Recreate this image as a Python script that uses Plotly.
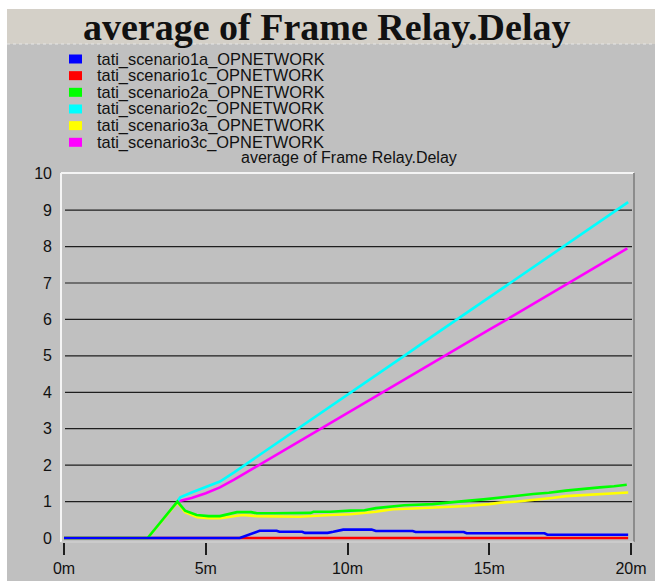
import plotly.graph_objects as go

# ---- data: average Frame Relay delay (seconds) vs simulation time (minutes) ----
names = [
    "tati_scenario1a_OPNETWORK",
    "tati_scenario1c_OPNETWORK",
    "tati_scenario2a_OPNETWORK",
    "tati_scenario2c_OPNETWORK",
    "tati_scenario3a_OPNETWORK",
    "tati_scenario3c_OPNETWORK",
]
colors = ["#0000ff", "#ff0000", "#00ff00", "#00ffff", "#ffff00", "#ff00ff"]

time_1a = [0, 6.2, 6.9, 7.5, 7.6, 8.4, 8.5, 9.3, 9.5, 9.85, 10.85, 11.0, 12.3,
           12.4, 14.1, 14.2, 16.95, 17.05, 19.9]
delay_1a = [0, 0, 0.2, 0.2, 0.17, 0.17, 0.14, 0.14, 0.17, 0.23, 0.23, 0.19, 0.19,
            0.165, 0.165, 0.13, 0.13, 0.09, 0.09]

time_1c = [0, 6.2, 19.9]
delay_1c = [0, 0, 0]

time_2a = [0, 2.95, 4.0, 4.27, 4.68, 5.1, 5.5, 5.85, 6.1, 6.6, 6.8, 7.4, 8.0, 8.7,
           8.8, 9.4, 10.1, 10.6, 11.0, 11.6, 12.0, 13.0, 13.5, 14.2, 14.8, 15.4,
           16.0, 16.55, 17.1, 17.7, 18.3, 18.9, 19.4, 19.85]
delay_2a = [0, 0, 1.0, 0.75, 0.63, 0.6, 0.6, 0.66, 0.71, 0.71, 0.68, 0.68, 0.68, 0.69,
            0.72, 0.72, 0.75, 0.76, 0.82, 0.88, 0.9, 0.93, 0.96, 1.02, 1.06, 1.12,
            1.16, 1.21, 1.24, 1.3, 1.35, 1.39, 1.42, 1.46]

time_2c = [4.0, 4.1, 4.5, 5.0, 5.5, 6, 7, 8, 9, 10, 11, 12, 13, 14, 15, 16, 17,
           18, 19, 19.9]
delay_2c = [1.0, 1.12, 1.25, 1.4, 1.55, 1.8, 2.33, 2.87, 3.4, 3.93, 4.47, 5.0,
            5.54, 6.07, 6.6, 7.14, 7.67, 8.2, 8.74, 9.22]

time_3a = [0, 2.95, 4.0, 4.27, 4.7, 5.1, 5.5, 5.85, 6.3, 6.8, 7.4, 8.3, 9.4, 10.1,
           11.0, 11.6, 12.3, 13.0, 14.2, 15.0, 15.4, 16.0, 16.55, 17.2, 17.7, 18.3,
           18.9, 19.4, 19.9]
delay_3a = [0, 0, 0.98, 0.71, 0.57, 0.54, 0.54, 0.585, 0.63, 0.6, 0.6, 0.585, 0.63,
            0.65, 0.72, 0.79, 0.81, 0.83, 0.88, 0.93, 0.97, 1.0, 1.04, 1.1, 1.15,
            1.18, 1.21, 1.23, 1.25]

time_3c = [4.0, 4.1, 4.5, 5.0, 5.5, 6, 7, 8, 9, 10, 11, 12, 13, 14, 15, 16, 17,
           18, 19, 19.87]
delay_3c = [1.0, 1.02, 1.1, 1.23, 1.39, 1.6, 2.06, 2.52, 2.98, 3.43, 3.89, 4.35,
            4.8, 5.26, 5.72, 6.17, 6.63, 7.09, 7.55, 7.95]

x_tick_vals = [0, 5, 10, 15, 20]
x_tick_text = ["0m", "5m", "10m", "15m", "20m"]
y_tick_vals = list(range(0, 11))
grid_vals = list(range(1, 10))

title_text = "average of Frame Relay.Delay"
subtitle_text = "average of Frame Relay.Delay"

# ---- page geometry (pixels) ----
W, H = 655, 581
L, R, T, B = 61, 634, 173, 542


def px(x):
    return (x - L) / (R - L)


def py(y):
    return (B - y) / (B - T)


series = {
    names[0]: (time_1a, delay_1a),
    names[1]: (time_1c, delay_1c),
    names[2]: (time_2a, delay_2a),
    names[3]: (time_2c, delay_2c),
    names[4]: (time_3a, delay_3a),
    names[5]: (time_3c, delay_3c),
}
color_of = dict(zip(names, colors))

# stacking order of the curves (last one on top)
draw_order = [names[1], names[4], names[5], names[3], names[2], names[0]]

fig = go.Figure()
for n in draw_order:
    t, v = series[n]
    fig.add_trace(go.Scatter(
        x=t, y=v, mode="lines", name=n, showlegend=False,
        line=dict(color=color_of[n], width=2.6, shape="linear"),
        hoverinfo="skip",
    ))

shapes = []
# white page border, header band and gray panel
shapes.append(dict(type="rect", xref="paper", yref="paper", layer="below",
                   x0=px(7), x1=px(W + 5), y0=py(H + 5), y1=py(44),
                   fillcolor="#c0c0c0", line=dict(width=0)))
shapes.append(dict(type="rect", xref="paper", yref="paper", layer="below",
                   x0=px(7), x1=px(W + 5), y0=py(44), y1=py(9),
                   fillcolor="#d4d0c8", line=dict(width=0)))
shapes.append(dict(type="line", xref="paper", yref="paper", layer="below",
                   x0=px(7), x1=px(W + 5), y0=py(44), y1=py(44),
                   line=dict(color="#e6e6e6", width=1, dash="dot")))

# horizontal grid lines
for g in grid_vals:
    shapes.append(dict(type="line", xref="paper", yref="y", layer="below",
                       x0=px(65), x1=px(632), y0=g, y1=g,
                       line=dict(color="#1e1e1e", width=1.2)))

# sunken frame around plotting area
shapes.append(dict(type="line", xref="paper", yref="paper",
                   x0=0, x1=1, y0=1, y1=1, line=dict(color="#f4f4f4", width=2)))
shapes.append(dict(type="line", xref="paper", yref="paper",
                   x0=0, x1=0, y0=0, y1=1, line=dict(color="#f4f4f4", width=2)))
shapes.append(dict(type="line", xref="paper", yref="paper",
                   x0=1, x1=1, y0=0, y1=1, line=dict(color="#8c8c8c", width=2)))
shapes.append(dict(type="line", xref="paper", yref="paper",
                   x0=0, x1=1, y0=0, y1=0, line=dict(color="#d6d6d6", width=1)))

annotations = []
annotations.append(dict(
    text=title_text, xref="paper", yref="paper", x=px(327), y=py(27),
    xanchor="center", yanchor="middle", showarrow=False,
    font=dict(family="Liberation Serif", size=38, color="#111111", weight="bold")))
annotations.append(dict(
    text=subtitle_text, xref="paper", yref="paper", x=px(349), y=py(158),
    xanchor="center", yanchor="middle", showarrow=False,
    font=dict(family="Liberation Sans", size=16, color="#111111")))

# legend block
row0, row_step = 59, 16.66
for i, n in enumerate(names):
    yc = row0 + i * row_step
    shapes.append(dict(type="rect", xref="paper", yref="paper",
                       x0=px(69), x1=px(82), y0=py(yc + 4.5), y1=py(yc - 4.5),
                       fillcolor=color_of[n], line=dict(width=0)))
    annotations.append(dict(
        text=n, xref="paper", yref="paper", x=px(95), y=py(yc),
        xanchor="left", yanchor="middle", showarrow=False,
        font=dict(family="Liberation Sans", size=16.4, color="#111111")))

fig.update_layout(
    template="none",
    width=W, height=H,
    margin=dict(l=L, r=W - R, t=T, b=H - B, pad=0, autoexpand=False),
    paper_bgcolor="#ffffff",
    plot_bgcolor="#c0c0c0",
    showlegend=False,
    shapes=shapes,
    annotations=annotations,
    xaxis=dict(
        range=[-0.106, 20.106], tickvals=x_tick_vals, ticktext=x_tick_text,
        showgrid=False, zeroline=False, showline=False, automargin=False,
        ticks="outside", ticklen=12, tickwidth=2, tickcolor="#1e1e1e",
        tickfont=dict(family="Liberation Sans", size=16, color="#111111"),
        fixedrange=True,
    ),
    yaxis=dict(
        range=[-0.11, 10.02], tickvals=y_tick_vals,
        showgrid=False, zeroline=False, showline=False, ticks="",
        automargin=False, ticklabelstandoff=8,
        tickfont=dict(family="Liberation Sans", size=16, color="#111111"),
        fixedrange=True,
    ),
)

fig.write_html("out.html")
